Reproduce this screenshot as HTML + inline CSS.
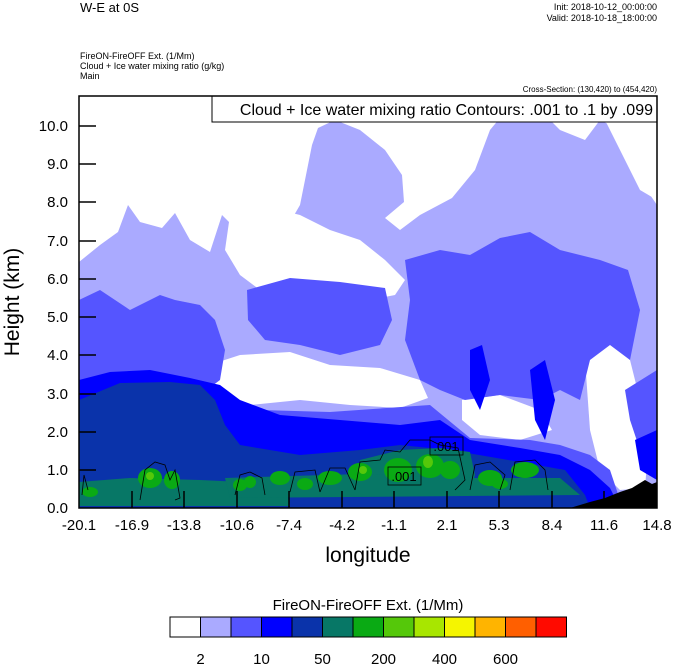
<!DOCTYPE html>
<html><head><meta charset="utf-8"><style>
body{margin:0;background:#fff;}
svg text{font-family:"Liberation Sans",sans-serif;}
</style></head><body>
<svg width="674" height="667" viewBox="0 0 674 667" xmlns="http://www.w3.org/2000/svg">
<rect width="674" height="667" fill="#fff"/>
<text x="80" y="12" font-size="13">W-E at 0S</text>
<text x="657" y="10" font-size="9" text-anchor="end">Init: 2018-10-12_00:00:00</text>
<text x="657" y="21" font-size="9" text-anchor="end">Valid: 2018-10-18_18:00:00</text>
<text x="80" y="59" font-size="9">FireON-FireOFF Ext.   (1/Mm)</text>
<text x="80" y="69" font-size="9">Cloud + Ice water mixing ratio   (g/kg)</text>
<text x="80" y="79" font-size="9">Main</text>
<text x="657" y="92" font-size="8" text-anchor="end">Cross-Section: (130,420) to (454,420)</text>
<defs><clipPath id="c"><rect x="79" y="96" width="578" height="412"/></clipPath></defs>
<g clip-path="url(#c)">
<!-- lavender -->
<path fill="#aaaaff" d="M79,262 L100,245 L118,232 L128,205 L140,222 L162,228 L175,213 L190,240 L210,252 L222,215 L245,238 L262,225 L282,236 L300,205 L312,145 L318,128 L335,120 L360,130 L385,150 L402,175 L404,202 L385,218 L400,230 L420,215 L452,198 L475,170 L490,130 L505,112 L525,120 L540,110 L560,130 L585,140 L600,120 L620,130 L640,180 L657,205 L657,508 L79,508Z"/>
<!-- white holes -->
<path fill="#fff" d="M230,215 L260,205 L300,215 L330,230 L360,240 L385,260 L405,280 L395,295 L370,300 L340,290 L300,285 L260,290 L240,275 L225,250Z"/>
<path fill="#fff" d="M200,368 L240,355 L290,352 L330,365 L380,368 L420,380 L428,398 L400,408 L350,405 L300,400 L250,405 L205,408 L195,390Z"/>
<path fill="#fff" d="M462,400 L500,395 L540,410 L552,430 L520,440 L480,435 L462,420Z"/>
<path fill="#fff" d="M585,360 L610,340 L630,360 L640,400 L648,450 L645,488 L620,490 L600,470 L590,430Z"/>
<path fill="#fff" d="M79,338 L100,330 L120,345 L118,372 L95,378 L79,380Z"/>
<path fill="#fff" d="M600,110 L630,120 L650,160 L657,200 L640,190 L620,150Z"/>
<!-- medium blue -->
<path fill="#5555ff" d="M79,300 L100,290 L130,310 L160,295 L175,300 L200,305 L215,320 L225,350 L220,380 L200,395 L180,400 L140,398 L100,400 L79,400Z"/>
<path fill="#5555ff" d="M247,290 L290,278 L340,282 L385,288 L392,320 L380,345 L340,355 L300,345 L265,340 L248,320Z"/>
<path fill="#5555ff" d="M405,260 L440,250 L470,255 L500,238 L530,232 L560,250 L600,260 L628,270 L640,310 L630,360 L610,345 L590,360 L580,400 L560,390 L540,400 L500,395 L465,400 L440,390 L420,380 L405,340 L410,300Z"/>
<path fill="#5555ff" d="M79,420 L200,408 L260,410 L330,412 L430,405 L470,438 L530,440 L560,445 L590,455 L610,470 L620,500 L79,505Z"/>
<path fill="#5555ff" d="M625,390 L657,370 L657,460 L640,450 L630,420Z"/>
<!-- blue -->
<path fill="#0000ff" d="M79,380 L110,372 L150,370 L190,378 L220,385 L240,400 L280,415 L340,420 L400,425 L440,420 L470,440 L520,448 L560,455 L590,470 L610,488 L620,508 L79,508Z"/>
<path fill="#0000ff" d="M530,370 L545,360 L555,400 L545,440 L535,420Z"/>
<path fill="#0000ff" d="M470,350 L482,345 L490,380 L480,410 L470,390Z"/>
<path fill="#0000ff" d="M635,440 L657,430 L657,480 L640,470Z"/>
<!-- dark blue -->
<path fill="#0a33aa" d="M79,400 L120,383 L170,382 L200,385 L215,400 L225,425 L240,445 L300,455 L360,450 L400,445 L450,450 L520,462 L565,470 L585,495 L590,508 L79,508Z"/>
<!-- teal -->
<path fill="#077766" d="M79,482 L130,478 L200,480 L285,484 L290,506 L79,506Z"/>
<path fill="#077766" d="M360,460 L400,450 L440,448 L470,452 L475,475 L470,490 L360,492Z"/>
<path fill="#077766" d="M225,478 L360,474 L470,478 L560,478 L580,495 L230,498Z"/>
<!-- green spots -->
<g fill="#0aaa14">
<ellipse cx="150" cy="478" rx="12" ry="10"/><ellipse cx="172" cy="480" rx="8" ry="9"/><ellipse cx="90" cy="492" rx="8" ry="5"/>
<ellipse cx="240" cy="485" rx="7" ry="6"/><ellipse cx="250" cy="482" rx="6" ry="6"/><ellipse cx="280" cy="478" rx="10" ry="7"/>
<ellipse cx="305" cy="484" rx="8" ry="6"/><ellipse cx="330" cy="478" rx="12" ry="7"/><ellipse cx="360" cy="472" rx="12" ry="9"/>
<ellipse cx="398" cy="470" rx="14" ry="12"/><ellipse cx="430" cy="466" rx="14" ry="12"/><ellipse cx="450" cy="470" rx="10" ry="9"/>
<ellipse cx="490" cy="478" rx="12" ry="8"/><ellipse cx="525" cy="470" rx="14" ry="8"/><ellipse cx="500" cy="484" rx="8" ry="5"/>
</g>
<g fill="#55c80a"><ellipse cx="150" cy="476" rx="4" ry="4"/><ellipse cx="428" cy="462" rx="5" ry="6"/><ellipse cx="363" cy="470" rx="4" ry="4"/></g>
<!-- contours -->
<g fill="none" stroke="#000" stroke-width="0.8">
<path d="M140,500 L145,470 L155,462 L165,465 L170,480 L175,470 L180,498 L175,500"/>
<path d="M235,495 L240,475 L250,472 L262,478 L265,495"/>
<path d="M290,492 L295,472 L315,470 L320,492"/>
<path d="M320,492 L330,468 L345,468 L355,490"/>
<path d="M355,490 L360,462 L380,460 L385,450 L400,452 L410,440 L430,440 L440,445 L458,448 L465,480 L455,490"/>
<path d="M470,490 L475,465 L490,462 L505,475 L500,490"/>
<path d="M510,490 L515,462 L535,460 L545,470 L548,490"/>
<path d="M82,495 L84,475 L88,490"/>
</g>
<!-- terrain -->
<path fill="#000" d="M570,508 L590,502 L605,498 L620,492 L632,488 L645,480 L652,484 L657,482 L657,508Z"/>
</g>
<!-- contour labels -->
<rect x="430" y="437" width="33" height="18" fill="none" stroke="#000" stroke-width="0.8"/>
<text x="446" y="451" font-size="13" text-anchor="middle">.001</text>
<rect x="388" y="467" width="33" height="18" fill="none" stroke="#000" stroke-width="0.8"/>
<text x="404" y="481" font-size="13" text-anchor="middle">.001</text>
<!-- info box -->
<rect x="212" y="96" width="445" height="26" fill="#fff" stroke="#000" stroke-width="1"/>
<text x="653" y="115" font-size="16" text-anchor="end">Cloud + Ice water mixing ratio Contours: .001 to .1 by .099</text>
<!-- frame -->
<rect x="79" y="96" width="578" height="412" fill="none" stroke="#000" stroke-width="1.5"/>
<g stroke="#000" stroke-width="1.5">
<line x1="79" y1="470" x2="96" y2="470"/><line x1="79" y1="432" x2="96" y2="432"/><line x1="79" y1="394" x2="96" y2="394"/>
<line x1="79" y1="355" x2="96" y2="355"/><line x1="79" y1="317" x2="96" y2="317"/><line x1="79" y1="279" x2="96" y2="279"/>
<line x1="79" y1="241" x2="96" y2="241"/><line x1="79" y1="202" x2="96" y2="202"/><line x1="79" y1="164" x2="96" y2="164"/>
<line x1="79" y1="126" x2="96" y2="126"/>
<line x1="132" y1="508" x2="132" y2="491"/><line x1="184" y1="508" x2="184" y2="491"/><line x1="237" y1="508" x2="237" y2="491"/>
<line x1="289" y1="508" x2="289" y2="491"/><line x1="342" y1="508" x2="342" y2="491"/><line x1="394" y1="508" x2="394" y2="491"/>
<line x1="447" y1="508" x2="447" y2="491"/><line x1="499" y1="508" x2="499" y2="491"/><line x1="552" y1="508" x2="552" y2="491"/>
<line x1="604" y1="508" x2="604" y2="491"/>
</g>
<g font-size="15" text-anchor="end">
<text x="68" y="513">0.0</text><text x="68" y="475">1.0</text><text x="68" y="437">2.0</text><text x="68" y="399">3.0</text>
<text x="68" y="360">4.0</text><text x="68" y="322">5.0</text><text x="68" y="284">6.0</text><text x="68" y="246">7.0</text>
<text x="68" y="207">8.0</text><text x="68" y="169">9.0</text><text x="68" y="131">10.0</text>
</g>
<g font-size="15" text-anchor="middle">
<text x="79" y="530">-20.1</text><text x="132" y="530">-16.9</text><text x="184" y="530">-13.8</text><text x="237" y="530">-10.6</text>
<text x="289" y="530">-7.4</text><text x="342" y="530">-4.2</text><text x="394" y="530">-1.1</text><text x="447" y="530">2.1</text>
<text x="499" y="530">5.3</text><text x="552" y="530">8.4</text><text x="604" y="530">11.6</text><text x="657" y="530">14.8</text>
</g>
<text x="368" y="562" font-size="21" text-anchor="middle">longitude</text>
<text transform="translate(19,302) rotate(-90)" font-size="21" text-anchor="middle">Height (km)</text>
<!-- colorbar -->
<text x="368" y="610" font-size="15" text-anchor="middle">FireON-FireOFF Ext.  (1/Mm)</text>
<g stroke="#000" stroke-width="1">
<rect x="170" y="617" width="30.5" height="20" fill="#fff"/>
<rect x="200.5" y="617" width="30.5" height="20" fill="#aaaaff"/>
<rect x="231" y="617" width="30.5" height="20" fill="#5555ff"/>
<rect x="261.5" y="617" width="30.5" height="20" fill="#0000ff"/>
<rect x="292" y="617" width="30.5" height="20" fill="#0a33aa"/>
<rect x="322.5" y="617" width="30.5" height="20" fill="#077766"/>
<rect x="353" y="617" width="30.5" height="20" fill="#0aaa14"/>
<rect x="383.5" y="617" width="30.5" height="20" fill="#55c80a"/>
<rect x="414" y="617" width="30.5" height="20" fill="#a8e600"/>
<rect x="444.5" y="617" width="30.5" height="20" fill="#f5f500"/>
<rect x="475" y="617" width="30.5" height="20" fill="#ffb400"/>
<rect x="505.5" y="617" width="30.5" height="20" fill="#ff5f00"/>
<rect x="536" y="617" width="30.5" height="20" fill="#ff0a00"/>
</g>
<g font-size="15" text-anchor="middle">
<text x="200.5" y="664">2</text><text x="261.5" y="664">10</text><text x="322.5" y="664">50</text>
<text x="383.5" y="664">200</text><text x="444.5" y="664">400</text><text x="505.5" y="664">600</text>
</g>
</svg>
</body></html>
